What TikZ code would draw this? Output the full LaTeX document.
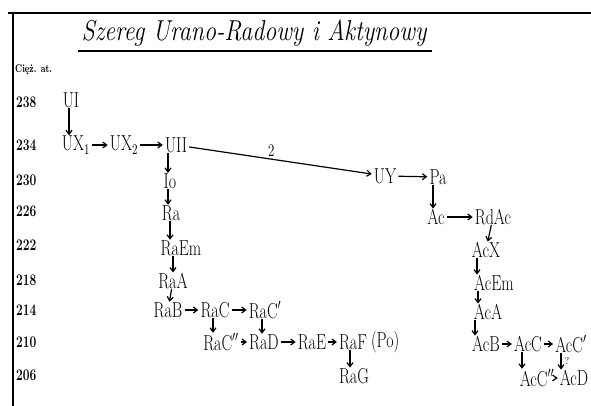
\documentclass[tikz,border=0pt]{standalone}
\usepackage{graphicx}
\usetikzlibrary{arrows.meta}
\newcommand{\hw}[1]{\scalebox{1}[1.35]{#1}}
\begin{document}
\begin{tikzpicture}[x=1pt,y=-1pt,
  el/.style={inner xsep=1pt, inner ysep=0pt, font=\fontsize{16}{18}\selectfont},
  num/.style={inner sep=0pt, anchor=west, font=\fontsize{12}{14}\selectfont\bfseries},
  arr/.style={-{Straight Barb[length=4pt,width=6pt]}, line width=1.2pt, shorten <=1pt, shorten >=1pt},
  varr/.style={arr, shorten <=0pt, shorten >=0.5pt},
  frame/.style={line width=2.5pt}]
\useasboundingbox (0,0) rectangle (591,406);
% frame
\draw[frame] (8,13) -- (591,13);
\draw[frame] (13,12) -- (13,406);
% title
\node[inner sep=0pt, font=\fontsize{24}{28}\selectfont\itshape] (title) at (254,33) {\scalebox{1}[1.2]{Szereg Urano-Radowy i Aktynowy}};
\draw[line width=1.2pt] (78,51) -- (432,51);
% axis label and numbers
\node[num, font=\fontsize{8}{10}\selectfont\bfseries] (lab) at (15,70) {\scalebox{1}[1.4]{Cięż. at.}};
\node[num] (n238) at (16,102) {\hw{238}};
\node[num] (n234) at (16,145) {\hw{234}};
\node[num] (n230) at (16,180) {\hw{230}};
\node[num] (n226) at (16,211) {\hw{226}};
\node[num] (n222) at (16,245) {\hw{222}};
\node[num] (n218) at (16,280) {\hw{218}};
\node[num] (n214) at (16,310) {\hw{214}};
\node[num] (n210) at (16,342) {\hw{210}};
\node[num] (n206) at (16,375) {\hw{206}};
% uranium series
\node[el] (UI)  at (71,100) {\hw{UI}};
\node[el] (UX1) at (76,145) {\hw{UX$_1$}};
\node[el] (UX2) at (124,145) {\hw{UX$_2$}};
\node[el] (UII) at (176,145) {\hw{UII}};
\node[el] (Io)  at (170,181) {\hw{Io}};
\node[el] (Ra)  at (171,213) {\hw{Ra}};
\node[el] (RaEm) at (181,248) {\hw{RaEm}};
\node[el] (RaA) at (173,281) {\hw{RaA}};
\node[el] (RaB) at (168,310) {\hw{RaB}};
\node[el] (RaC) at (215,310) {\hw{RaC}};
\node[el] (RaCp) at (265,310) {\hw{RaC$'$}};
\node[el] (RaCpp) at (221,342) {\hw{RaC$''$}};
\node[el] (RaD) at (264,342) {\hw{RaD}};
\node[el] (RaE) at (312,342) {\hw{RaE}};
\node[el] (RaF) at (353,342) {\hw{RaF}};
\node[el, anchor=west, inner sep=0pt] (Po) at (RaF.east) {\hw{\,(Po)}};
\node[el] (RaG) at (354,376) {\hw{RaG}};
% actinium series
\node[el] (UY) at (385,176) {\hw{UY}};
\node[el] (Pa) at (438,177) {\hw{Pa}};
\node[el] (Ac) at (436,217) {\hw{Ac}};
\node[el] (RdAc) at (493,217) {\hw{RdAc}};
\node[el] (AcX) at (486,250) {\hw{AcX}};
\node[el] (AcEm) at (494,283) {\hw{AcEm}};
\node[el] (AcA) at (488,312) {\hw{AcA}};
\node[el] (AcB) at (486,344) {\hw{AcB}};
\node[el] (AcC) at (528,344) {\hw{AcC}};
\node[el] (AcCp) at (571,344) {\hw{AcC$'$}};
\node[el] (AcCpp) at (537,378) {\hw{AcC$''$}};
\node[el] (AcD) at (574,378) {\hw{AcD}};
% arrows: uranium series
\draw[varr] ([xshift=-2pt]UI.south) -- ([xshift=-2pt]UI.south |- UX1.north);
\draw[arr] (UX1) -- (UX2);
\draw[arr] (UX2) -- (UII);
\draw[varr] ([xshift=-8pt]UII.south) -- ([xshift=-8pt]UII.south |- Io.north);
\draw[varr] ([xshift=-2pt]Io.south) -- ([xshift=-2pt]Io.south |- Ra.north);
\draw[varr] ([xshift=-1pt]Ra.south) -- ([xshift=-1pt]Ra.south |- RaEm.north);
\draw[varr] (RaEm.south -| RaA.north) -- (RaA.north);
\draw[varr] (RaA) -- (RaB);
\draw[arr] (RaB) -- (RaC);
\draw[arr] (RaC) -- (RaCp);
\draw[varr] ([xshift=-2pt]RaC.south) -- ([xshift=-2pt]RaC.south |- RaCpp.north);
\draw[varr] ([xshift=-3pt]RaCp.south) -- ([xshift=-3pt]RaCp.south |- RaD.north);
\draw[arr] (RaCpp) -- (RaD);
\draw[arr] (RaD) -- (RaE);
\draw[arr] (RaE) -- (RaF);
\draw[varr] ([xshift=-3pt]RaF.south) -- ([xshift=-3pt]RaF.south |- RaG.north);
% branch to actinium series
\draw[arr] (UII) -- node[above, pos=0.45, inner sep=2pt, font=\fontsize{13}{15}\selectfont] (two) {\hw{2}} (UY);
\draw[arr] (UY) -- (Pa);
\draw[varr] ([xshift=-5pt]Pa.south) -- ([xshift=-5pt]Pa.south |- Ac.north);
\draw[arr] (Ac) -- (RdAc);
\draw[varr] (RdAc) -- (AcX);
\draw[varr] ([xshift=-9pt]AcX.south) -- ([xshift=-9pt]AcX.south |- AcEm.north);
\draw[varr] ([xshift=-16pt]AcEm.south) -- ([xshift=-16pt]AcEm.south |- AcA.north);
\draw[varr] ([xshift=-13pt]AcA.south) -- ([xshift=-13pt]AcA.south |- AcB.north);
\draw[arr] (AcB) -- (AcC);
\draw[arr] (AcC) -- (AcCp);
\draw[varr] ([xshift=-6pt]AcC.south) -- ([xshift=-6pt]AcC.south |- AcCpp.north);
\draw[varr] ([xshift=-10pt]AcCp.south) -- ([xshift=-10pt]AcCp.south |- AcD.north);
\node[inner sep=0pt, font=\fontsize{10}{12}\selectfont] (q) at (567,361) {?};
\draw[arr] (AcCpp) -- (AcD);
\end{tikzpicture}
\end{document}
